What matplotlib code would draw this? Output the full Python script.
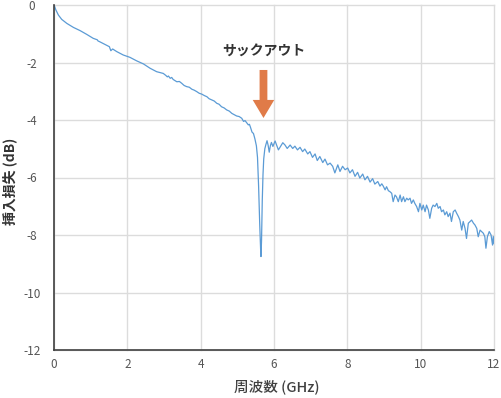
import matplotlib
matplotlib.use("Agg")
import matplotlib.pyplot as plt
from matplotlib.ticker import FixedLocator, FuncFormatter

plt.rcParams['font.family'] = ['Noto Sans CJK JP', 'DejaVu Sans']
plt.rcParams['axes.unicode_minus'] = False

# ---- data ----
freq_ghz = [
    0.00, 0.02, 0.05, 0.12, 0.21, 0.35, 0.53, 0.71, 0.89, 1.07,
    1.18, 1.20, 1.25, 1.39, 1.51, 1.55, 1.60, 1.71, 1.89, 2.07,
    2.25, 2.44, 2.62, 2.80, 2.98, 3.05, 3.09, 3.12, 3.17, 3.21,
    3.25, 3.35, 3.42, 3.48, 3.55, 3.62, 3.69, 3.76, 3.82, 3.89,
    3.96, 4.03, 4.10, 4.17, 4.23, 4.30, 4.37, 4.44, 4.50, 4.57,
    4.64, 4.71, 4.78, 4.85, 4.91, 4.98, 5.05, 5.12, 5.17, 5.21,
    5.26, 5.30, 5.33, 5.36, 5.40, 5.44, 5.48, 5.52, 5.55, 5.58,
    5.61, 5.635, 5.645, 5.66, 5.68, 5.70, 5.72, 5.75, 5.78, 5.81,
    5.84, 5.87, 5.90, 5.93, 5.97, 6.03, 6.12, 6.24, 6.30, 6.36,
    6.44, 6.51, 6.57, 6.64, 6.71, 6.78, 6.84, 6.92, 6.98, 7.05,
    7.12, 7.18, 7.25, 7.33, 7.39, 7.46, 7.53, 7.60, 7.66, 7.74,
    7.80, 7.87, 7.94, 8.01, 8.07, 8.14, 8.21, 8.28, 8.34, 8.42,
    8.48, 8.55, 8.62, 8.69, 8.75, 8.83, 8.89, 8.94, 8.98, 9.03,
    9.07, 9.12, 9.16, 9.21, 9.25, 9.30, 9.34, 9.39, 9.44, 9.48,
    9.53, 9.57, 9.62, 9.66, 9.71, 9.75, 9.80, 9.84, 9.89, 9.94,
    9.98, 10.03, 10.07, 10.12, 10.16, 10.21, 10.25, 10.30, 10.34, 10.39,
    10.44, 10.48, 10.53, 10.57, 10.62, 10.66, 10.71, 10.75, 10.80, 10.84,
    10.89, 10.94, 10.98, 11.03, 11.07, 11.12, 11.16, 11.21, 11.25, 11.30,
    11.35, 11.39, 11.44, 11.48, 11.53, 11.57, 11.62, 11.66, 11.71, 11.75,
    11.78, 11.82, 11.87, 11.92, 11.96, 11.98, 12.00,
]
loss_db = [
    0.00, -0.06, -0.17, -0.35, -0.50, -0.64, -0.78, -0.89, -1.02, -1.16,
    -1.21, -1.25, -1.28, -1.37, -1.45, -1.59, -1.53, -1.62, -1.74, -1.82,
    -1.94, -2.05, -2.20, -2.32, -2.38, -2.45, -2.50, -2.47, -2.55, -2.52,
    -2.59, -2.67, -2.66, -2.72, -2.80, -2.84, -2.86, -2.93, -2.96, -3.01,
    -3.07, -3.10, -3.15, -3.19, -3.26, -3.30, -3.34, -3.42, -3.45, -3.54,
    -3.58, -3.65, -3.69, -3.77, -3.81, -3.86, -3.88, -3.94, -4.05, -4.02,
    -4.10, -4.17, -4.15, -4.26, -4.42, -4.47, -4.66, -4.90, -5.30, -6.30,
    -7.60, -8.50, -8.75, -8.20, -6.80, -5.90, -5.35, -5.00, -4.85, -4.72,
    -4.88, -5.12, -4.90, -4.78, -4.92, -4.73, -5.04, -4.79, -4.87, -4.99,
    -4.87, -4.99, -4.91, -5.04, -4.95, -5.10, -5.01, -5.18, -5.10, -5.30,
    -5.18, -5.41, -5.27, -5.48, -5.36, -5.56, -5.50, -5.61, -5.84, -5.56,
    -5.79, -5.61, -5.73, -5.67, -5.84, -5.73, -5.96, -5.82, -6.02, -5.88,
    -6.08, -5.96, -6.16, -6.04, -6.23, -6.14, -6.30, -6.22, -6.30, -6.43,
    -6.32, -6.46, -6.49, -6.55, -6.84, -6.61, -6.67, -6.84, -6.61, -6.84,
    -6.67, -6.84, -6.72, -6.78, -6.72, -6.90, -6.78, -6.90, -7.01, -7.19,
    -6.90, -7.13, -6.96, -7.19, -6.96, -7.13, -7.42, -7.07, -6.96, -7.01,
    -6.90, -7.07, -7.01, -7.19, -7.13, -7.30, -7.19, -7.36, -7.24, -7.53,
    -7.19, -7.13, -7.24, -7.36, -7.48, -7.83, -7.53, -7.77, -8.12, -7.59,
    -7.53, -7.48, -7.59, -7.65, -7.77, -8.06, -7.83, -7.88, -7.94, -8.06,
    -8.46, -8.06, -7.88, -8.00, -8.35, -8.05, -8.30,
]

x_ticks = [0, 2, 4, 6, 8, 10, 12]
y_ticks = [0, -2, -4, -6, -8, -10, -12]
x_label = "周波数 (GHz)"
y_label = "挿入損失 (dB)"
note_text = "サックアウト"
note_freq = 5.713
note_from_db = -2.26
note_to_db = -3.93

# ---- figure ----
fig = plt.figure(figsize=(5.02, 3.98), dpi=100)
ax = fig.add_axes([54/502, 1 - 350/398, 440/502, 345/398])

ax.plot(freq_ghz, loss_db, color='#5B9BD5', lw=0.9, zorder=3)

ax.set_xlim(0, 12)
ax.set_ylim(-12, 0)
ax.xaxis.set_major_locator(FixedLocator(x_ticks))
ax.yaxis.set_major_locator(FixedLocator(y_ticks))
ax.xaxis.set_major_formatter(FuncFormatter(lambda v, p: f"{int(v)}"))
ax.yaxis.set_major_formatter(FuncFormatter(lambda v, p: f"{int(v)}"))

ax.grid(True, color='#dcdcdc', lw=1.0, zorder=0)
for g in ax.get_xgridlines() + ax.get_ygridlines():
    g.set_clip_on(False)
ax.set_axisbelow(True)

for s in ('top', 'right'):
    ax.spines[s].set_visible(False)
for s in ('left', 'bottom'):
    ax.spines[s].set_color('#404040')
    ax.spines[s].set_linewidth(1.2)
    ax.spines[s].set_zorder(4)

ax.tick_params(axis='both', length=0, labelsize=8.5, labelcolor='#555555')
ax.tick_params(axis='x', pad=6)
ax.tick_params(axis='y', pad=16)
for lbl in ax.get_yticklabels():
    lbl.set_horizontalalignment('center')

fig.text(10/502, 1 - 181/398, y_label, rotation=90, ha='center', va='center',
         fontsize=10, fontweight='bold', color='#333333')
fig.text(277/502, 1 - 387/398, x_label, ha='center', va='center',
         fontsize=10.5, fontweight='medium', color='#404040')

ax.text(note_freq, -1.62, note_text, ha='center', va='center',
        fontsize=10, fontweight='bold', color='#333333')
ax.annotate('', xy=(note_freq, note_to_db), xytext=(note_freq, note_from_db),
            arrowprops=dict(arrowstyle='simple,head_width=15.5,head_length=13,tail_width=5.6',
                            mutation_scale=1, color='#E07B48', shrinkA=0, shrinkB=0,
                            lw=0))

fig.savefig('out.png', dpi=100)
